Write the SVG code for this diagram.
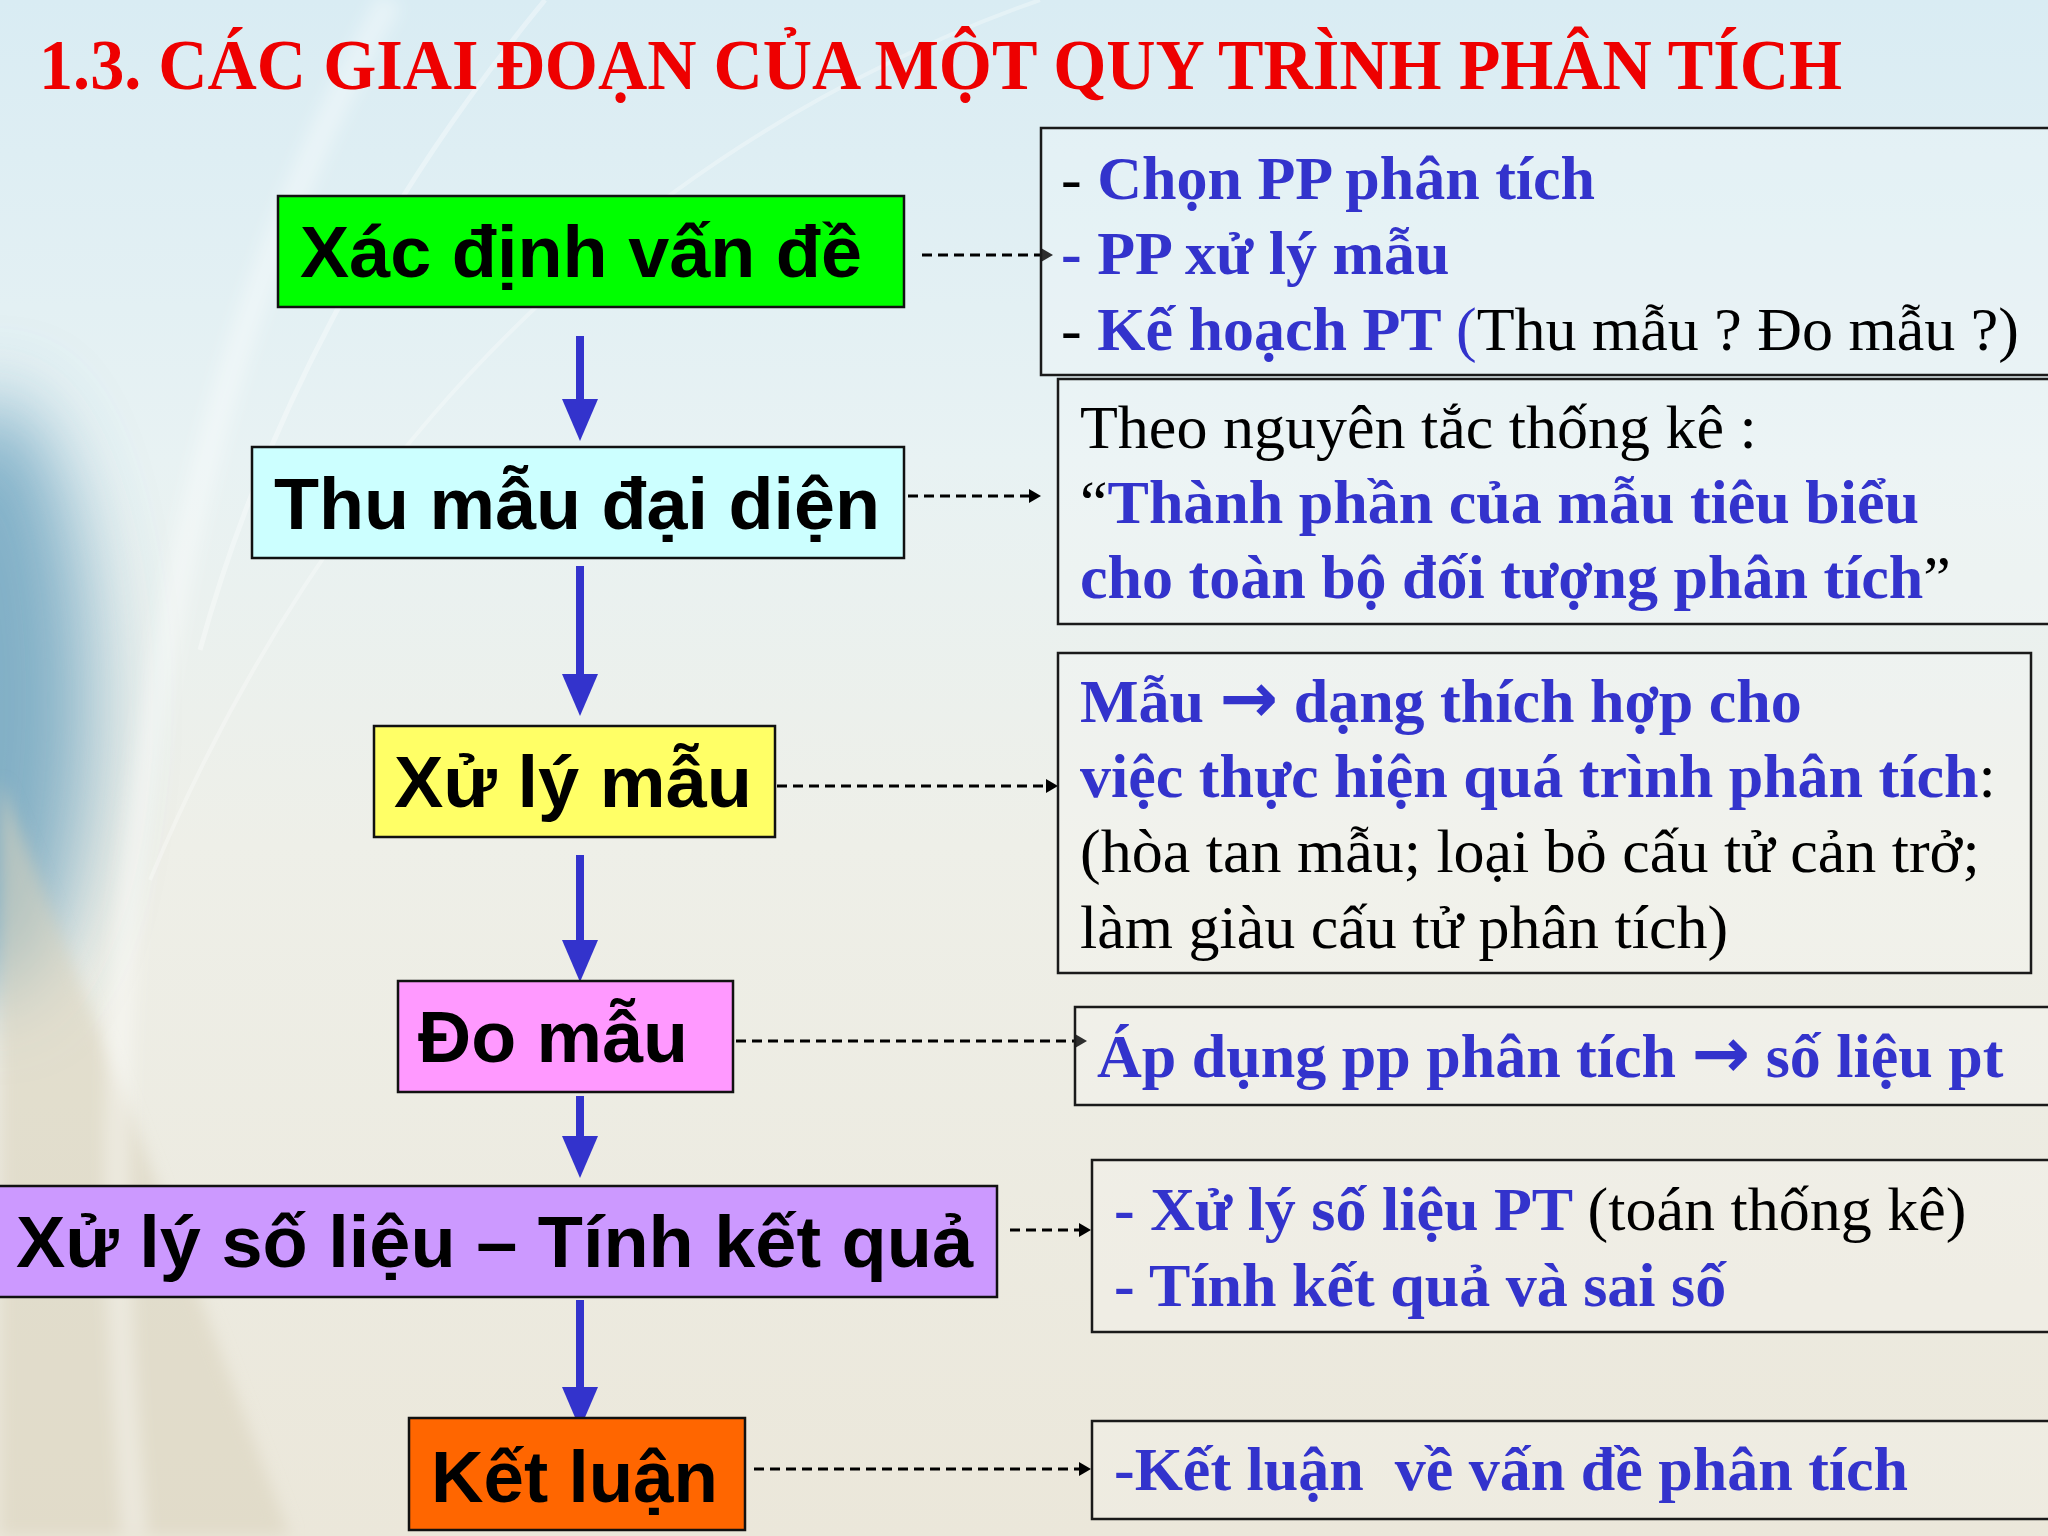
<svg xmlns="http://www.w3.org/2000/svg" width="2048" height="1536" viewBox="0 0 2048 1536">
<defs>
<linearGradient id="bg" x1="0" y1="0" x2="0" y2="1">
<stop offset="0" stop-color="#d9ecf3"/>
<stop offset="0.3" stop-color="#e8f2f3"/>
<stop offset="0.55" stop-color="#eeefe8"/>
<stop offset="1" stop-color="#ebe7da"/>
</linearGradient>
<filter id="blur40" x="-100%" y="-100%" width="300%" height="300%"><feGaussianBlur stdDeviation="40"/></filter>
<filter id="blur8" x="-50%" y="-50%" width="200%" height="200%"><feGaussianBlur stdDeviation="8"/></filter>
<marker id="bhead" viewBox="0 0 42 36" refX="0" refY="18" markerWidth="42" markerHeight="36" markerUnits="userSpaceOnUse" orient="auto">
<path d="M0,0 L42,18 L0,36 Z" fill="#3333cc"/>
</marker>
<marker id="khead" viewBox="0 0 12 14" refX="0" refY="7" markerWidth="12" markerHeight="14" markerUnits="userSpaceOnUse" orient="auto">
<path d="M0,0 L12,7 L0,14 Z" fill="#000"/>
</marker>
<style>
.node{stroke:#111;stroke-width:2.5}
.nt{font-family:"Liberation Sans",Arial,sans-serif;font-weight:bold;font-size:73px;fill:#000}
.note{fill:#ffffff;fill-opacity:0.18;stroke:#1a1a1a;stroke-width:2.5}
.t{font-family:"Liberation Serif","Times New Roman",serif;font-size:62px}
.b{font-weight:bold;fill:#3333cc}
.k{font-weight:normal;fill:#000}
.kb{fill:#000}
.arr{font-family:"DejaVu Sans",sans-serif;font-weight:bold;fill:#3333cc;font-size:70px}
.flow{stroke:#3333cc;stroke-width:8;fill:none;marker-end:url(#bhead)}
.dash{stroke:#000;stroke-width:2.8;stroke-dasharray:10 6;fill:none;marker-end:url(#khead)}
</style>
</defs>

<!-- background -->
<rect x="0" y="0" width="2048" height="1536" fill="url(#bg)"/>
<ellipse cx="-10" cy="700" rx="100" ry="300" fill="#4a8eb0" fill-opacity="0.65" filter="url(#blur40)"/>
<path d="M0,780 C90,1000 200,1300 290,1536 L0,1536 Z" fill="#d8d1bc" fill-opacity="0.55" filter="url(#blur8)"/>
<path d="M390,0 C250,250 170,520 130,900 C110,1100 115,1300 135,1536" stroke="#ffffff" stroke-opacity="0.35" stroke-width="26" fill="none" filter="url(#blur8)"/>
<path d="M545,0 C380,200 260,430 200,650" stroke="#ffffff" stroke-opacity="0.35" stroke-width="5" fill="none"/>
<path d="M1040,0 C700,120 360,380 150,880" stroke="#ffffff" stroke-opacity="0.3" stroke-width="4" fill="none"/>

<!-- title -->
<text x="39" y="89" textLength="1803" lengthAdjust="spacingAndGlyphs" font-family="'Liberation Serif','Times New Roman',serif" font-weight="bold" font-size="71" fill="#ee0000">1.3. CÁC GIAI ĐOẠN CỦA MỘT QUY TRÌNH PHÂN TÍCH</text>

<!-- connectors -->
<g id="connectors">
<line class="flow" x1="580" y1="336" x2="580" y2="399"/>
<line class="flow" x1="580" y1="566" x2="580" y2="674"/>
<line class="flow" x1="580" y1="855" x2="580" y2="940"/>
<line class="flow" x1="580" y1="1096" x2="580" y2="1136"/>
<line class="flow" x1="580" y1="1300" x2="580" y2="1387"/>
<line class="dash" x1="922" y1="255" x2="1041" y2="255"/>
<line class="dash" x1="908" y1="496" x2="1029" y2="496"/>
<line class="dash" x1="777" y1="786" x2="1046" y2="786"/>
<line class="dash" x1="720" y1="1041" x2="1075" y2="1041"/>
<line class="dash" x1="1010" y1="1230" x2="1079" y2="1230"/>
<line class="dash" x1="754" y1="1469" x2="1079" y2="1469"/>
</g>

<!-- process nodes -->
<g id="node-xac-dinh">
<rect class="node" x="278" y="196" width="626" height="111" fill="#00ff00"/>
<text class="nt" x="300" y="277" textLength="562" lengthAdjust="spacingAndGlyphs">Xác định vấn đề</text>
</g>
<g id="node-thu-mau">
<rect class="node" x="252" y="447" width="652" height="111" fill="#ccffff"/>
<text class="nt" x="274" y="529" textLength="606" lengthAdjust="spacingAndGlyphs">Thu mẫu đại diện</text>
</g>
<g id="node-xu-ly-mau">
<rect class="node" x="374" y="726" width="401" height="111" fill="#ffff66"/>
<text class="nt" x="394" y="807" textLength="358" lengthAdjust="spacingAndGlyphs">Xử lý mẫu</text>
</g>
<g id="node-do-mau">
<rect class="node" x="398" y="981" width="335" height="111" fill="#ff99ff"/>
<text class="nt" x="418" y="1062" textLength="270" lengthAdjust="spacingAndGlyphs">Đo mẫu</text>
</g>
<g id="node-xu-ly-so-lieu">
<rect class="node" x="-3" y="1186" width="1000" height="111" fill="#cc99ff"/>
<text class="nt" x="16" y="1267" textLength="957" lengthAdjust="spacingAndGlyphs">Xử lý số liệu – Tính kết quả</text>
</g>
<g id="node-ket-luan">
<rect class="node" x="409" y="1418" width="336" height="112" fill="#ff6600"/>
<text class="nt" x="431" y="1502" textLength="287" lengthAdjust="spacingAndGlyphs">Kết luận</text>
</g>

<!-- note boxes -->
<g id="note-1">
<rect class="note" x="1041" y="128" width="1020" height="247"/>
<text class="t" x="1061" y="199"><tspan class="kb">- </tspan><tspan class="b">Chọn PP phân tích</tspan></text>
<text class="t" x="1061" y="274"><tspan class="b">- PP xử lý mẫu</tspan></text>
<text class="t" x="1061" y="350"><tspan class="kb">- </tspan><tspan class="b">Kế hoạch PT </tspan><tspan fill="#3333cc">(</tspan><tspan class="k">Thu mẫu ? Đo mẫu ?)</tspan></text>
</g>
<g id="note-2">
<rect class="note" x="1058" y="379" width="1000" height="245"/>
<text class="t" x="1080" y="448"><tspan class="k">Theo nguyên tắc thống kê :</tspan></text>
<text class="t" x="1080" y="523"><tspan class="k">“</tspan><tspan class="b">Thành phần của mẫu tiêu biểu</tspan></text>
<text class="t" x="1080" y="598"><tspan class="b">cho toàn bộ đối tượng phân tích</tspan><tspan class="k">”</tspan></text>
</g>
<g id="note-3">
<rect class="note" x="1058" y="653" width="973" height="320"/>
<text class="t" x="1080" y="722"><tspan class="b">Mẫu </tspan><tspan class="arr">→</tspan><tspan class="b"> dạng thích hợp cho</tspan></text>
<text class="t" x="1080" y="797"><tspan class="b">việc thực hiện quá trình phân tích</tspan><tspan class="k">:</tspan></text>
<text class="t" x="1080" y="872"><tspan class="k">(hòa tan mẫu; loại bỏ cấu tử cản trở;</tspan></text>
<text class="t" x="1080" y="948"><tspan class="k">làm giàu cấu tử phân tích)</tspan></text>
</g>
<g id="note-4">
<rect class="note" x="1075" y="1007" width="990" height="98"/>
<text class="t" x="1097" y="1077"><tspan class="b">Áp dụng pp phân tích </tspan><tspan class="arr">→</tspan><tspan class="b"> số liệu pt</tspan></text>
</g>
<g id="note-5">
<rect class="note" x="1092" y="1160" width="970" height="172"/>
<text class="t" x="1114" y="1230"><tspan class="b">- Xử lý số liệu PT </tspan><tspan class="k">(toán thống kê)</tspan></text>
<text class="t" x="1114" y="1306"><tspan class="b">- Tính kết quả và sai số</tspan></text>
</g>
<g id="note-6">
<rect class="note" x="1092" y="1421" width="970" height="98"/>
<text class="t" x="1114" y="1490" xml:space="preserve"><tspan class="b">-Kết luận  về vấn đề phân tích</tspan></text>
</g>
</svg>
